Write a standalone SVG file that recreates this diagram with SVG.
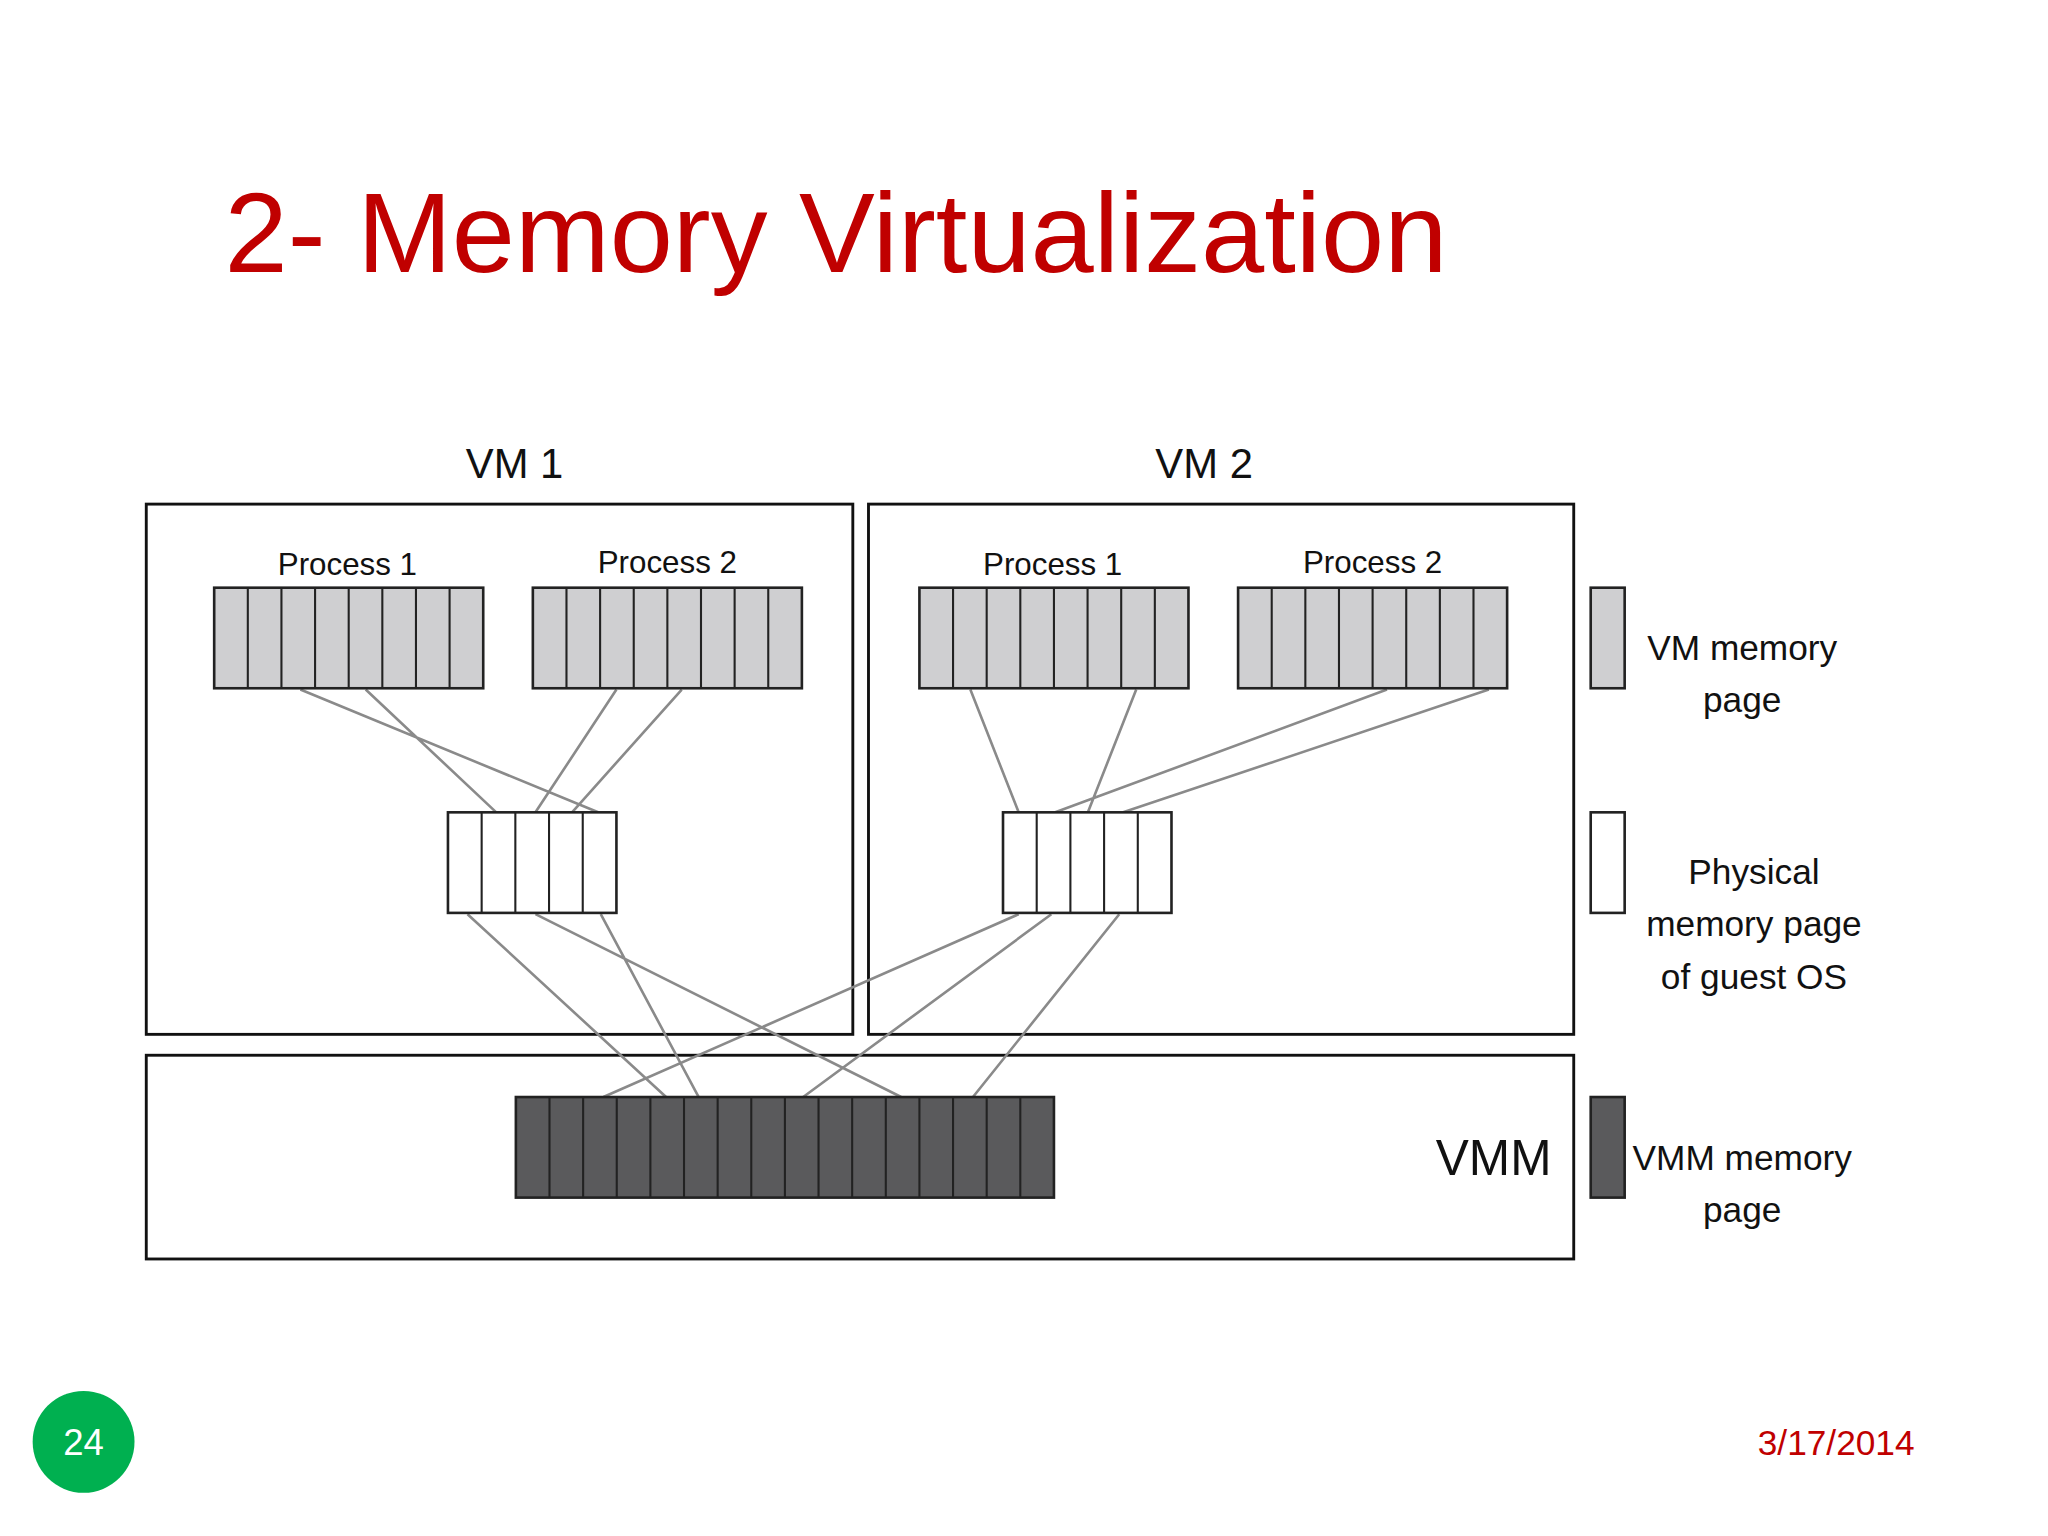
<svg xmlns="http://www.w3.org/2000/svg" width="2048" height="1536" viewBox="0 0 2048 1536">
<style>
.box{fill:none;stroke:#111;stroke-width:2.2}
.g{fill:#cfcfd1;stroke:#222;stroke-width:2}
.w{fill:#fff;stroke:#222;stroke-width:2}
.d{fill:#5a5a5c;stroke:#222;stroke-width:2}
.c{stroke:#222;stroke-width:1.6}
.ln{stroke:#8a8a8a;stroke-width:2;fill:none}
text{font-family:"Liberation Sans",Arial,sans-serif;fill:#111}
.lbl{font-size:24px;text-anchor:middle}
.lg{font-size:27px;text-anchor:middle}
</style>
<defs>
<g id="cells8"><path class="c" d="M25.75 0V77M51.5 0V77M77.25 0V77M103 0V77M128.75 0V77M154.5 0V77M180.25 0V77"/></g>
<g id="cells5"><path class="c" d="M25.8 0V77M51.6 0V77M77.4 0V77M103.2 0V77"/></g>
</defs>
<rect width="2048" height="1536" fill="#fff"/>
<g transform="scale(1.306)">
<text x="172" y="208" style="font-size:87px;fill:#c00000">2- Memory Virtualization</text>
<g id="vm1"><rect class="box" x="112" y="386" width="541" height="406"/><text x="394" y="366" style="font-size:32px;text-anchor:middle">VM 1</text></g>
<g id="vm2"><rect class="box" x="665" y="386" width="540" height="406"/><text x="922" y="366" style="font-size:32px;text-anchor:middle">VM 2</text></g>
<g id="vmm"><rect class="box" x="112" y="808" width="1093" height="156"/><text x="1188" y="900" style="font-size:38px;text-anchor:end">VMM</text></g>
<g id="connectors">
<path class="ln" d="M230 528L458 622M280 528L380 622M472 528L410 622M522 528L438 622M743 528L780 622M870 528L833 622M1062 528L808 622M1140 528L860 622M358 700L510 840M410 700L690 840M460 700L535 840M780 700L462 840M805 700L615 840M857 700L745 840"/>
</g>
<g id="vm1p1"><text class="lbl" x="266" y="440">Process 1</text><rect class="g" x="164" y="450" width="206" height="77"/><use href="#cells8" x="164" y="450"/></g>
<g id="vm1p2"><text class="lbl" x="511" y="439">Process 2</text><rect class="g" x="408" y="450" width="206" height="77"/><use href="#cells8" x="408" y="450"/></g>
<g id="vm2p1"><text class="lbl" x="806" y="440">Process 1</text><rect class="g" x="704" y="450" width="206" height="77"/><use href="#cells8" x="704" y="450"/></g>
<g id="vm2p2"><text class="lbl" x="1051" y="439">Process 2</text><rect class="g" x="948" y="450" width="206" height="77"/><use href="#cells8" x="948" y="450"/></g>
<g id="vm1phys"><rect class="w" x="343" y="622" width="129" height="77"/><use href="#cells5" x="343" y="622"/></g>
<g id="vm2phys"><rect class="w" x="768" y="622" width="129" height="77"/><use href="#cells5" x="768" y="622"/></g>
<g id="vmmpages"><rect class="d" x="395" y="840" width="412" height="77"/><use href="#cells8" x="395" y="840"/><use href="#cells8" x="601" y="840"/><path class="c" d="M601 840V917"/></g>
<g id="legend">
<rect class="g" x="1218" y="450" width="26" height="77"/>
<text class="lg" x="1334" y="505">VM memory</text><text class="lg" x="1334" y="545">page</text>
<rect class="w" x="1218" y="622" width="26" height="77"/>
<text class="lg" x="1343" y="677">Physical</text><text class="lg" x="1343" y="717">memory page</text><text class="lg" x="1343" y="757">of guest OS</text>
<rect class="d" x="1218" y="840" width="26" height="77"/>
<text class="lg" x="1334" y="896">VMM memory</text><text class="lg" x="1334" y="936">page</text>
</g>
<g id="footer">
<circle cx="64" cy="1104" r="39" fill="#00b050"/>
<text x="64" y="1114" style="font-size:28px;fill:#fff;text-anchor:middle">24</text>
<text x="1466" y="1114" style="font-size:27px;fill:#c00000;text-anchor:end">3/17/2014</text>
</g>
</g>
</svg>
